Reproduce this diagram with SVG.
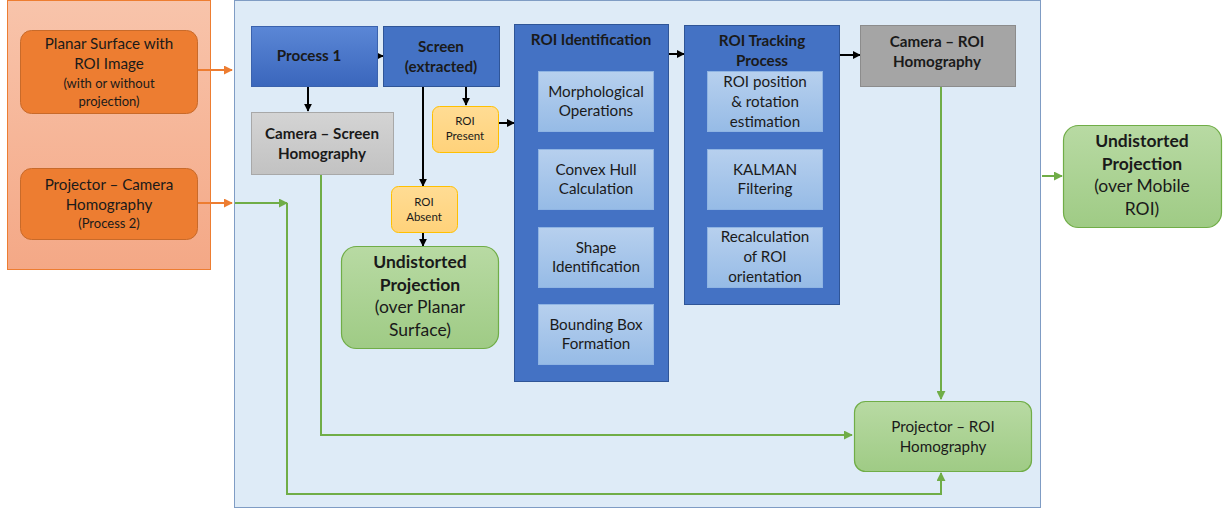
<svg xmlns="http://www.w3.org/2000/svg" width="1225" height="512" viewBox="0 0 1225 512">
  <defs>
    <linearGradient id="gSalmon" x1="0" y1="0" x2="0" y2="1">
      <stop offset="0" stop-color="#f8c4ab"/>
      <stop offset="1" stop-color="#f4a886"/>
    </linearGradient>
    <linearGradient id="gBlue" x1="0" y1="0" x2="0" y2="1">
      <stop offset="0" stop-color="#5b87d6"/>
      <stop offset="1" stop-color="#3a66bc"/>
    </linearGradient>
    <linearGradient id="gGrey" x1="0" y1="0" x2="0" y2="1">
      <stop offset="0" stop-color="#d4d4d4"/>
      <stop offset="1" stop-color="#c2c2c2"/>
    </linearGradient>
    <linearGradient id="gInner" x1="0" y1="0" x2="0" y2="1">
      <stop offset="0" stop-color="#b7d0ee"/>
      <stop offset="1" stop-color="#96bbe6"/>
    </linearGradient>
    <linearGradient id="gGreen" x1="0" y1="0" x2="0" y2="1">
      <stop offset="0" stop-color="#b8daa3"/>
      <stop offset="1" stop-color="#9fcb85"/>
    </linearGradient>
    <linearGradient id="gYellow" x1="0" y1="0" x2="0" y2="1">
      <stop offset="0" stop-color="#ffdc94"/>
      <stop offset="1" stop-color="#ffd27a"/>
    </linearGradient>
    <marker id="aBlack" viewBox="0 0 10 10" refX="9" refY="5" markerWidth="8" markerHeight="8" orient="auto" markerUnits="userSpaceOnUse">
      <path d="M0,0 L10,5 L0,10 z" fill="#000"/>
    </marker>
    <marker id="aOrange" viewBox="0 0 10 10" refX="9" refY="5" markerWidth="9" markerHeight="9" orient="auto" markerUnits="userSpaceOnUse">
      <path d="M0,0 L10,5 L0,10 z" fill="#ed7d31"/>
    </marker>
    <marker id="aGreen" viewBox="0 0 10 10" refX="9" refY="5" markerWidth="9" markerHeight="9" orient="auto" markerUnits="userSpaceOnUse">
      <path d="M0,0 L10,5 L0,10 z" fill="#70ad47"/>
    </marker>
  </defs>
  <style>
    text { font-family: Lato, "Open Sans", "Liberation Sans", sans-serif; fill: #1a1a1a; text-anchor: middle; }
    .t14 { font-size: 15.2px; }
    .t12 { font-size: 13px; }
    .t11 { font-size: 11.5px; }
    .b { font-weight: bold; }
    .big { font-size: 17.5px; }
    .orange { fill: #ed7d31; stroke: #c86a2a; stroke-width: 1; }
    .blue { fill: #4472c4; stroke: #2f5597; stroke-width: 1; }
    .inner { fill: url(#gInner); stroke: #8fb4e3; stroke-width: 1; }
    .green { fill: url(#gGreen); stroke: #70ad47; stroke-width: 1.2; }
    .yellow { fill: url(#gYellow); stroke: #ffc000; stroke-width: 1; }
    .blk { stroke: #000; stroke-width: 2; fill: none; marker-end: url(#aBlack); }
    .org { stroke: #ed7d31; stroke-width: 2; fill: none; marker-end: url(#aOrange); }
    .grn { stroke: #70ad47; stroke-width: 2; fill: none; marker-end: url(#aGreen); }
  </style>

  <!-- input panel and main processing panel -->
  <rect id="input-panel" x="7.5" y="0.5" width="203" height="269" fill="url(#gSalmon)" stroke="#ed7d31" stroke-width="1"/>
  <rect id="main-panel" x="234.5" y="0.5" width="806" height="507" fill="#deebf7" stroke="#7f9cc4" stroke-width="1"/>

  <!-- connectors -->
  <g id="connectors">
    <line class="org" x1="197" y1="70" x2="232" y2="70"/>
    <line class="org" x1="197" y1="203" x2="232" y2="203"/>
    <polyline class="grn" points="235,203 287,203"/>
    <polyline class="grn" points="287,203 287,494 941,494 941,473"/>
    <polyline class="grn" points="321,174 321,435 852,435"/>
    <polyline class="grn" points="941,86 941,399"/>
    <line class="grn" x1="1042" y1="176" x2="1062" y2="176"/>

    <line class="blk" x1="377" y1="56" x2="383" y2="56"/>
    <line class="blk" x1="308" y1="86" x2="308" y2="111"/>
    <line class="blk" x1="423" y1="86" x2="423" y2="186"/>
    <line class="blk" x1="423" y1="232" x2="423" y2="246"/>
    <line class="blk" x1="466" y1="86" x2="466" y2="105"/>
    <line class="blk" x1="498" y1="123" x2="514" y2="123"/>
    <line class="blk" x1="668" y1="54" x2="684" y2="54"/>
    <line class="blk" x1="839" y1="55" x2="860" y2="55"/>
    <line class="blk" x1="595" y1="131" x2="595" y2="149"/>
    <line class="blk" x1="595" y1="209" x2="595" y2="227"/>
    <line class="blk" x1="595" y1="287" x2="595" y2="304"/>
    <line class="blk" x1="765" y1="131" x2="765" y2="149"/>
    <line class="blk" x1="765" y1="209" x2="765" y2="227"/>
  </g>

  <g id="planar-surface">
    <rect class="orange" x="20.5" y="30.5" width="177" height="83" rx="11"/>
    <text class="t14" x="109" y="49">Planar Surface with</text>
    <text class="t14" x="109" y="69">ROI Image</text>
    <text class="t12" x="109" y="88">(with or without</text>
    <text class="t12" x="109" y="106">projection)</text>
  </g>

  <g id="projector-camera">
    <rect class="orange" x="20.5" y="168.5" width="177" height="71" rx="11"/>
    <text class="t14" x="109" y="190">Projector – Camera</text>
    <text class="t14" x="109" y="210">Homography</text>
    <text class="t12" x="109" y="228">(Process 2)</text>
  </g>

  <g id="process-1">
    <rect x="251.5" y="26.5" width="126" height="60" fill="url(#gBlue)" stroke="#3a62ad" stroke-width="1"/>
    <text class="t14 b" x="309" y="61">Process 1</text>
  </g>

  <g id="screen">
    <rect class="blue" x="383.5" y="26.5" width="116" height="60"/>
    <text class="t14 b" x="441" y="52">Screen</text>
    <text class="t14 b" x="441" y="72">(extracted)</text>
  </g>

  <g id="camera-screen">
    <rect x="251.5" y="112.5" width="142" height="62" fill="url(#gGrey)" stroke="#a8a8a8" stroke-width="1"/>
    <text class="t14 b" x="322" y="139">Camera – Screen</text>
    <text class="t14 b" x="322" y="159">Homography</text>
  </g>

  <g id="roi-present">
    <rect class="yellow" x="432.5" y="106.5" width="66" height="46" rx="7"/>
    <text class="t11" x="465" y="125">ROI</text>
    <text class="t11" x="465" y="140">Present</text>
  </g>

  <g id="roi-absent">
    <rect class="yellow" x="391.5" y="186.5" width="66" height="46" rx="7"/>
    <text class="t11" x="424" y="206">ROI</text>
    <text class="t11" x="424" y="221">Absent</text>
  </g>

  <g id="undistorted-planar">
    <rect class="green" x="341.5" y="246.5" width="157" height="102" rx="15"/>
    <text class="big b" x="420" y="268">Undistorted</text>
    <text class="big b" x="420" y="291">Projection</text>
    <text class="big" x="420" y="313">(over Planar</text>
    <text class="big" x="420" y="336">Surface)</text>
  </g>

  <g id="roi-identification">
    <rect class="blue" x="514.5" y="24.5" width="154" height="357"/>
    <text class="t14 b" x="591" y="45">ROI Identification</text>
  </g>
  <g id="morphological">
    <rect class="inner" x="538.5" y="71.5" width="115" height="60"/>
    <text class="t14" x="596" y="97">Morphological</text>
    <text class="t14" x="596" y="116">Operations</text>
  </g>
  <g id="convex-hull">
    <rect class="inner" x="538.5" y="149.5" width="115" height="60"/>
    <text class="t14" x="596" y="175">Convex Hull</text>
    <text class="t14" x="596" y="194">Calculation</text>
  </g>
  <g id="shape-identification">
    <rect class="inner" x="538.5" y="227.5" width="115" height="60"/>
    <text class="t14" x="596" y="253">Shape</text>
    <text class="t14" x="596" y="272">Identification</text>
  </g>
  <g id="bounding-box">
    <rect class="inner" x="538.5" y="304.5" width="115" height="60"/>
    <text class="t14" x="596" y="330">Bounding Box</text>
    <text class="t14" x="596" y="349">Formation</text>
  </g>

  <g id="roi-tracking">
    <rect class="blue" x="684.5" y="25.5" width="155" height="279"/>
    <text class="t14 b" x="762" y="46">ROI Tracking</text>
    <text class="t14 b" x="762" y="66">Process</text>
  </g>
  <g id="position-estimation">
    <rect class="inner" x="707.5" y="71.5" width="115" height="60"/>
    <text class="t14" x="765" y="87">ROI position</text>
    <text class="t14" x="765" y="107">&amp; rotation</text>
    <text class="t14" x="765" y="127">estimation</text>
  </g>
  <g id="kalman">
    <rect class="inner" x="707.5" y="149.5" width="115" height="60"/>
    <text class="t14" x="765" y="175">KALMAN</text>
    <text class="t14" x="765" y="194">Filtering</text>
  </g>
  <g id="recalculation">
    <rect class="inner" x="707.5" y="227.5" width="115" height="60"/>
    <text class="t14" x="765" y="242">Recalculation</text>
    <text class="t14" x="765" y="262">of ROI</text>
    <text class="t14" x="765" y="282">orientation</text>
  </g>

  <g id="camera-roi">
    <rect x="860.5" y="25.5" width="155" height="61" fill="#a5a5a5" stroke="#8c8c8c" stroke-width="1"/>
    <text class="t14 b" x="937" y="47">Camera – ROI</text>
    <text class="t14 b" x="937" y="67">Homography</text>
  </g>

  <g id="projector-roi">
    <rect class="green" x="854.5" y="401.5" width="177" height="70" rx="11"/>
    <text class="t14" x="943" y="432">Projector – ROI</text>
    <text class="t14" x="943" y="452">Homography</text>
  </g>

  <g id="undistorted-mobile">
    <rect class="green" x="1063.5" y="125.5" width="158" height="102" rx="15"/>
    <text class="big b" x="1142" y="147">Undistorted</text>
    <text class="big b" x="1142" y="170">Projection</text>
    <text class="big" x="1142" y="192">(over Mobile</text>
    <text class="big" x="1142" y="215">ROI)</text>
  </g>
</svg>
